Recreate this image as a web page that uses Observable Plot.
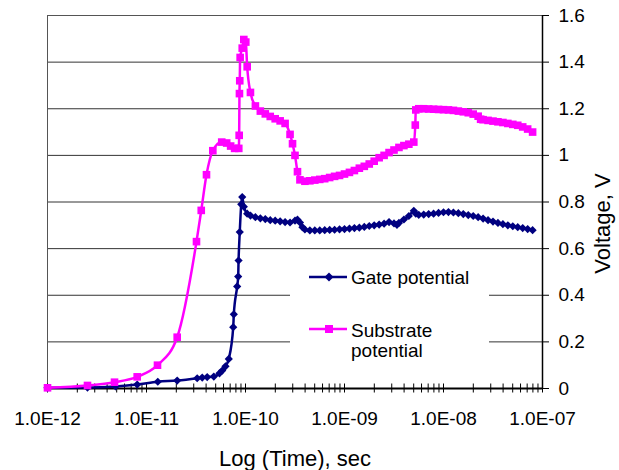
<!DOCTYPE html>
<html><head><meta charset="utf-8">
<script src="https://cdn.jsdelivr.net/npm/d3@7"></script>
<script src="https://cdn.jsdelivr.net/npm/@observablehq/plot@0.6"></script>
<style>
body{margin:0;background:#fff;}
#wrap{position:relative;width:619px;height:470px;font-family:"Liberation Sans",Arial,sans-serif;}
#legend{position:absolute;left:290px;top:253px;}
</style></head><body><div id="wrap"></div>
<script>
// log10(time in s) and voltage
const gateLogT = [-12.0,-11.596,-11.313,-11.094,-10.886,-10.69,-10.488,-10.437,-10.387,-10.32,-10.263,-10.235,-10.202,-10.169,-10.124,-10.118,-10.084,-10.074,-10.07,-10.058,-10.043,-10.033,-10.017,-9.983,
  -9.95,-9.90,-9.85,-9.80,-9.75,-9.70,-9.65,-9.60,-9.55,-9.50,-9.475,-9.45,-9.425,-9.40,-9.35,-9.30,-9.25,-9.20,-9.15,-9.10,-9.05,-9.00,-8.95,-8.90,-8.85,-8.80,-8.75,-8.70,-8.65,-8.60,-8.55,-8.50,-8.47,-8.45,-8.40,-8.35,-8.30,-8.28,-8.25,-8.20,-8.15,-8.10,-8.05,-8.00,-7.95,-7.90,-7.85,-7.80,-7.75,-7.70,-7.65,-7.60,-7.55,-7.50,-7.45,-7.40,-7.35,-7.30,-7.25,-7.20,-7.15,-7.10];
const gateV = [0.003,0.004,0.009,0.017,0.029,0.034,0.044,0.047,0.049,0.051,0.065,0.077,0.095,0.127,0.263,0.318,0.438,0.48,0.549,0.671,0.79,0.821,0.78,0.75,
  0.742,0.735,0.73,0.727,0.722,0.72,0.717,0.714,0.712,0.72,0.724,0.712,0.692,0.682,0.678,0.678,0.678,0.679,0.68,0.681,0.683,0.684,0.686,0.688,0.69,0.693,0.697,0.70,0.703,0.707,0.714,0.708,0.702,0.71,0.725,0.74,0.762,0.75,0.745,0.746,0.748,0.75,0.753,0.756,0.757,0.755,0.752,0.748,0.744,0.74,0.735,0.729,0.722,0.716,0.71,0.705,0.70,0.696,0.692,0.688,0.684,0.679];

const subLogT = [-12.0,-11.596,-11.323,-11.094,-10.889,-10.69,-10.495,-10.447,-10.394,-10.33,-10.24,-10.19,-10.15,-10.11,-10.068,-10.064,-10.061,-10.058,-10.054,-10.033,-10.017,-9.997,-9.983,
  -9.95,-9.90,-9.85,-9.80,-9.75,-9.70,-9.65,-9.60,-9.55,-9.525,-9.50,-9.475,-9.45,-9.40,-9.35,-9.30,-9.25,-9.20,-9.15,-9.10,-9.05,-9.00,-8.95,-8.90,-8.85,-8.80,-8.75,-8.70,-8.65,-8.60,-8.55,-8.50,-8.45,-8.40,-8.35,-8.30,-8.285,-8.28,-8.25,-8.20,-8.15,-8.10,-8.05,-8.00,-7.95,-7.90,-7.85,-7.80,-7.75,-7.70,-7.65,-7.625,-7.60,-7.55,-7.50,-7.45,-7.40,-7.35,-7.30,-7.25,-7.20,-7.15,-7.10];
const subV = [0.003,0.013,0.027,0.05,0.10,0.22,0.63,0.764,0.917,1.02,1.057,1.053,1.04,1.03,1.03,1.086,1.265,1.32,1.42,1.46,1.497,1.486,1.38,
  1.27,1.212,1.19,1.178,1.167,1.157,1.148,1.137,1.09,1.05,1.0,0.93,0.895,0.889,0.891,0.894,0.897,0.90,0.905,0.91,0.914,0.92,0.927,0.935,0.945,0.953,0.963,0.975,0.99,1.0,1.012,1.023,1.034,1.042,1.048,1.057,1.13,1.195,1.2,1.2,1.199,1.198,1.197,1.196,1.195,1.193,1.19,1.187,1.183,1.177,1.168,1.155,1.153,1.15,1.147,1.144,1.141,1.137,1.133,1.129,1.122,1.113,1.10];

const seriesNames = ["Gate potential", "Substrate potential"];
const seriesColors = ["#000080", "#FF00FF"];
const yTicks = [0, 0.2, 0.4, 0.6, 0.8, 1, 1.2, 1.4, 1.6];
const yTickLabels = ["0", "0.2", "0.4", "0.6", "0.8", "1", "1.2", "1.4", "1.6"];
const xDecades = [-12, -11, -10, -9, -8, -7];
const xTitle = "Log (Time), sec";
const yTitle = "Voltage, V";

const gate = gateLogT.map((e, i) => ({t: 10 ** e, v: gateV[i]}));
const sub = subLogT.map((e, i) => ({t: 10 ** e, v: subV[i]}));
const majorTicks = xDecades.map(e => 10 ** e);
const minorTicks = [];
xDecades.slice(0, -1).forEach(e => { for (let k = 1; k <= 9; k++) minorTicks.push(k * 10 ** e); });
minorTicks.push(10 ** xDecades[xDecades.length - 1]);
const fmtX = d => { const e = Math.round(Math.log10(d)); return "1.0E" + (e < 0 ? "-" : "+") + String(Math.abs(e)).padStart(2, "0"); };
const fmtY = d => yTickLabels[yTicks.indexOf(d)];

const W = 619, H = 470, mT = 15, mB = 82;
const font = '"Liberation Sans", Arial, sans-serif';
const chart = Plot.plot({
  width: W, height: H,
  marginLeft: 47, marginRight: 77, marginTop: mT, marginBottom: mB,
  style: {fontFamily: font, fontSize: "19px", color: "#000", background: "#fff"},
  x: {type: "log", domain: [majorTicks[0], majorTicks[majorTicks.length - 1]], label: null},
  y: {domain: [0, 1.6], label: null},
  marks: [
    Plot.ruleY(yTicks.slice(1), {stroke: "#333", strokeWidth: 1}),
    Plot.frame({stroke: "#555", strokeWidth: 1}),
    Plot.tickX(minorTicks, {x: d => d, stroke: "#000", strokeWidth: 1, insetTop: (H - mT - mB) - 4.5, insetBottom: -4.5}),
    Plot.axisX(majorTicks, {anchor: "bottom", tickSize: 0, tickPadding: 23, tickFormat: fmtX, label: null, fontSize: 19}),
    Plot.axisY(yTicks, {anchor: "right", tickSize: 6, tickPadding: 10, tickFormat: fmtY, label: null, fontSize: 19}),
    Plot.ruleY([0], {stroke: "#000", strokeWidth: 2}),
    Plot.ruleX([majorTicks[majorTicks.length - 1]], {stroke: "#000", strokeWidth: 1.5}),
    Plot.text([xTitle], {frameAnchor: "bottom", dy: 70, fontSize: 22, lineAnchor: "middle", textAnchor: "middle", fill: "#000"}),
    Plot.text([yTitle], {frameAnchor: "right", dx: 60, dy: 21.5, rotate: -90, fontSize: 22, lineAnchor: "middle", textAnchor: "middle", fill: "#000"}),
    Plot.line(gate, {x: "t", y: "v", stroke: seriesColors[0], strokeWidth: 2.5, curve: "monotone-x"}),
    Plot.dot(gate, {x: "t", y: "v", symbol: "diamond2", fill: seriesColors[0], r: 3.7}),
    Plot.line(sub, {x: "t", y: "v", stroke: seriesColors[1], strokeWidth: 2.5, curve: "monotone-x"}),
    Plot.dot(sub, {x: "t", y: "v", symbol: "square", fill: seriesColors[1], r: 4.3})
  ]
});
const wrap = document.getElementById("wrap");
wrap.appendChild(chart);

// legend (white box interrupting gridlines)
const ns = "http://www.w3.org/2000/svg";
const lg = document.createElementNS(ns, "svg");
lg.setAttribute("id", "legend");
lg.setAttribute("width", 199); lg.setAttribute("height", 125);
lg.innerHTML = `
<rect x="0" y="0" width="199" height="125" fill="#fff"/>
<line x1="19" x2="57" y1="24" y2="24" stroke="${seriesColors[0]}" stroke-width="2.5"/>
<path d="M39,19.5 L43.5,24 L39,28.5 L34.5,24 Z" fill="${seriesColors[0]}"/>
<text x="61" y="31.3" font-family='${font}' font-size="19" fill="#000">${seriesNames[0]}</text>
<line x1="19" x2="57" y1="76" y2="76" stroke="${seriesColors[1]}" stroke-width="2.5"/>
<rect x="35" y="72" width="8" height="8" fill="${seriesColors[1]}"/>
<text x="61" y="83.7" font-family='${font}' font-size="19" fill="#000">Substrate</text>
<text x="61" y="103.7" font-family='${font}' font-size="19" fill="#000">potential</text>`;
wrap.appendChild(lg);
</script>
</body></html>
